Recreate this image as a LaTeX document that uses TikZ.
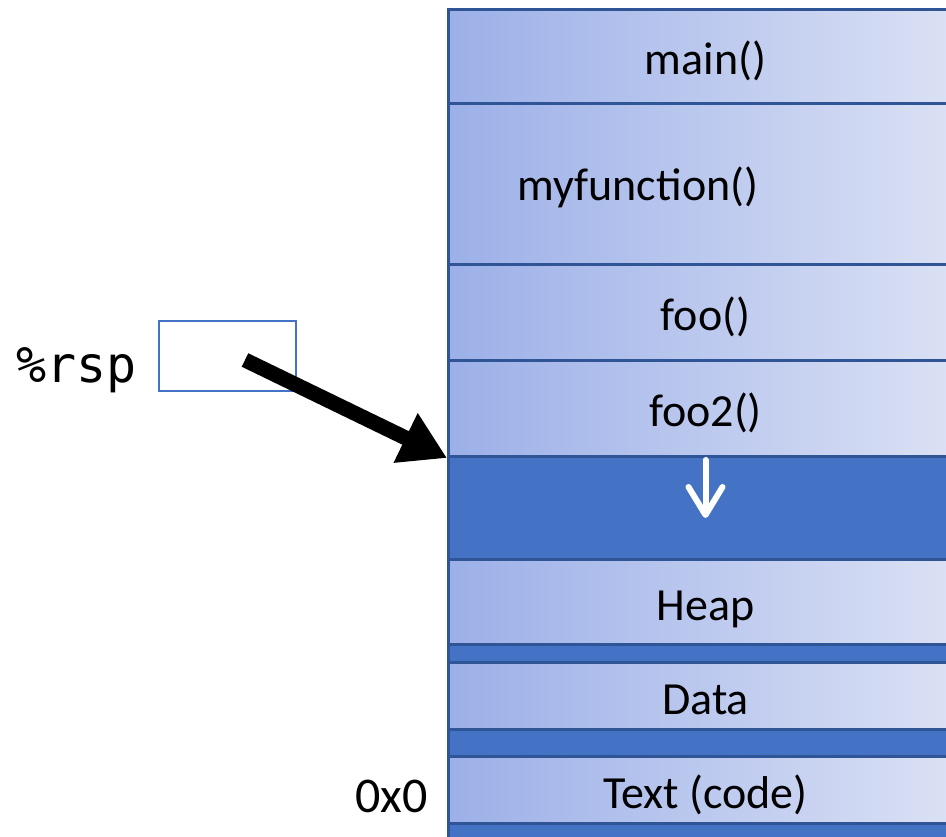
\documentclass[tikz,border=0pt]{standalone}
\usepackage{fontspec}
\setmainfont{Carlito}
\newfontfamily\regfont{DejaVu Sans Mono}
\usepackage{tikz}
\usetikzlibrary{arrows.meta}
\definecolor{stackdark}{HTML}{4472C4}
\definecolor{stackline}{HTML}{2F5597}
\definecolor{stacklo}{HTML}{9CB0E8}
\definecolor{stackhi}{HTML}{DCE2F5}

\begin{document}
\begin{tikzpicture}[x=1pt,y=-1pt,
  frame/.style={draw=stackline,line width=3pt,anchor=north west,minimum width=514pt,inner sep=0pt,text height=36pt,text depth=0pt,font=\fontsize{46}{55}\selectfont},
  light/.style={frame,left color=stacklo,right color=stackhi},
  dark/.style={frame,fill=stackdark}]
\useasboundingbox (0,0) rectangle (946,837);
% stack frames, top to bottom
\node[light,minimum height=94pt] (main) at (447,8) {main()};
\node[light,minimum height=161pt] (myfn) at (447,102) {};
\node[light,minimum height=96pt] (foo) at (447,263) {foo()};
\node[light,minimum height=96pt] (foo2) at (447,359) {foo2()};
\node[dark,minimum height=103pt] (free) at (447,455) {};
\node[light,minimum height=85pt] (heap) at (447,558) {Heap};
\node[dark,minimum height=18pt] (gap1) at (447,643) {};
\node[light,minimum height=67pt] (data) at (447,661) {Data};
\node[dark,minimum height=27pt] (gap2) at (447,728) {};
\node[light,minimum height=67pt] (text) at (447,755) {Text (code)};
\node[dark,minimum height=20pt] (gap3) at (447,822) {};
\node[font=\fontsize{46}{55}\selectfont] (myfnlabel) at (638,187) {myfunction()};
\node[font=\fontsize{50}{60}\selectfont,anchor=base east,inner sep=0pt] (zero) at (428,812) {0x0};
% stack pointer
\node[draw=stackdark,line width=1.5pt,fill=white,minimum width=137pt,minimum height=70pt] (rspbox) at (227.5,356) {};
\node[font=\regfont\fontsize{50}{60}\selectfont,anchor=base west,inner sep=0pt] (rsp) at (16,382) {\%rsp};
\coordinate (rspptr) at (245,360);
\draw[line width=15pt,-{Triangle[length=46pt,width=52pt]}] (rspptr) -- (foo2.south west);
\draw[white,line width=6pt,line cap=round,-{Straight Barb[round,length=28pt,width=34pt]}] ([yshift=-5pt]free.north) -- ([yshift=-63pt]free.north);
\end{tikzpicture}
\end{document}
